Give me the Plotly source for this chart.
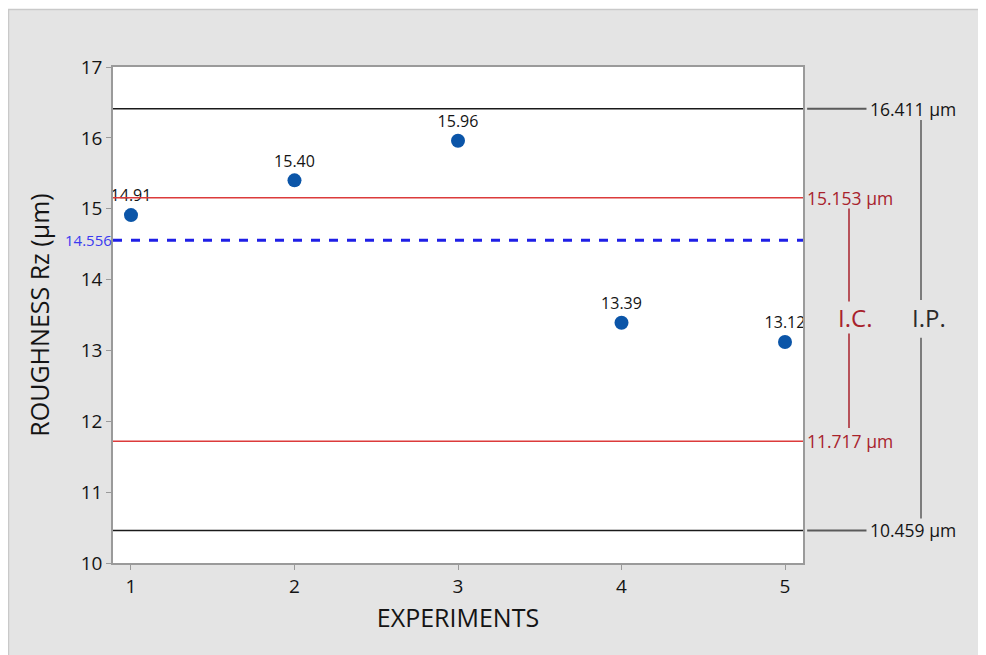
import plotly.graph_objects as go

experiments = [1, 2, 3, 4, 5]
roughness = [14.91, 15.40, 15.96, 13.39, 13.12]
labels = ["14.91", "15.40", "15.96", "13.39", "13.12"]
mean_value = 14.556
ip_upper, ip_lower = 16.411, 10.459
ic_upper, ic_lower = 15.153, 11.717
y_ticks = [10, 11, 12, 13, 14, 15, 16, 17]
x_ticks = [1, 2, 3, 4, 5]

FONT = "Open Sans"
RED_LINE = "#dc3b3b"
RED_TEXT = "#a8222c"
GRAY = "#5a5a5a"
TXT = "#141414"

# page offset of the figure (default body margin) is 8px
L, T, PW, PH = 105, 59, 690, 496

fig = go.Figure()

fig.add_trace(go.Scatter(
    x=experiments, y=roughness, mode="markers+text",
    text=labels, textposition="top center",
    textfont=dict(family=FONT, size=16, color=TXT),
    marker=dict(color="#0b55a8", size=14),
    showlegend=False, cliponaxis=False,
))

shapes = []
for val, col, w, dash in [(ip_upper, "#1a1a1a", 1.5, "solid"),
                          (ip_lower, "#1a1a1a", 1.5, "solid"),
                          (ic_upper, RED_LINE, 1.5, "solid"),
                          (ic_lower, RED_LINE, 1.5, "solid"),
                          (mean_value, "#1f1fe6", 3, "dash")]:
    shapes.append(dict(type="line", xref="paper", yref="y", x0=0, x1=1, y0=val, y1=val,
                       line=dict(color=col, width=w, dash=dash), layer="above"))

# gray outer panel
shapes.append(dict(type="rect", xref="paper", yref="paper",
                   x0=(0.5 - L) / PW, x1=(1000 - L) / PW,
                   y0=-(700 - T - PH) / PH, y1=(T + PH - 1.5) / PH,
                   fillcolor="#e4e4e4", line=dict(color="#c9c9c9", width=1.5), layer="below"))
shapes.append(dict(type="rect", xref="paper", yref="paper", x0=0, x1=1, y0=0, y1=1,
                   fillcolor="white", line=dict(width=0), layer="below"))

for val in (ip_upper, ip_lower):
    shapes.append(dict(type="line", xref="paper", yref="y", x0=1.006, x1=1.092, y0=val, y1=val,
                       line=dict(color=GRAY, width=2)))
ip_x = (921 - 113) / 690
ic_x = (849 - 113) / 690
ip_mid = 13.43
ic_mid = 13.46
shapes.append(dict(type="line", xref="paper", yref="y", x0=ip_x, x1=ip_x,
                   y0=ip_upper - 0.16, y1=ip_mid + 0.28, line=dict(color=GRAY, width=1.5)))
shapes.append(dict(type="line", xref="paper", yref="y", x0=ip_x, x1=ip_x,
                   y0=ip_mid - 0.25, y1=ip_lower + 0.17, line=dict(color=GRAY, width=1.5)))
shapes.append(dict(type="line", xref="paper", yref="y", x0=ic_x, x1=ic_x,
                   y0=ic_upper - 0.15, y1=ic_mid + 0.23, line=dict(color=RED_TEXT, width=1.5)))
shapes.append(dict(type="line", xref="paper", yref="y", x0=ic_x, x1=ic_x,
                   y0=ic_mid - 0.22, y1=ic_lower + 0.19, line=dict(color=RED_TEXT, width=1.5)))

annotations = []
for val in (ip_upper, ip_lower):
    annotations.append(dict(xref="paper", yref="y", x=1.094, y=val, text=f"{val:.3f} µm",
                            showarrow=False, xanchor="left", yanchor="middle",
                            font=dict(family=FONT, size=17.5, color=TXT)))
for val in (ic_upper, ic_lower):
    annotations.append(dict(xref="paper", yref="y", x=1.003, y=val, text=f"{val:.3f} µm",
                            showarrow=False, xanchor="left", yanchor="middle",
                            font=dict(family=FONT, size=17.5, color=RED_TEXT)))
annotations.append(dict(xref="paper", yref="y", x=ic_x + 0.009, y=ic_mid, text="I.C.",
                        showarrow=False, xanchor="center", yanchor="middle",
                        font=dict(family=FONT, size=24, color=RED_TEXT)))
annotations.append(dict(xref="paper", yref="y", x=ip_x + 0.011, y=ip_mid + 0.04, text="I.P.",
                        showarrow=False, xanchor="center", yanchor="middle",
                        font=dict(family=FONT, size=24, color="#2a2a2a")))
annotations.append(dict(xref="paper", yref="y", x=0.001, y=mean_value, text=f"{mean_value:.3f}",
                        showarrow=False, xanchor="right", yanchor="middle",
                        font=dict(family=FONT, size=15, color="#3a3af0")))

fig.update_layout(
    width=986, height=655,
    margin=dict(l=L, r=986 - L - PW, t=T, b=655 - T - PH),
    paper_bgcolor="white", plot_bgcolor="rgba(0,0,0,0)",
    shapes=shapes, annotations=annotations,
    font=dict(family=FONT, color=TXT),
    xaxis=dict(range=[0.89, 5.11], tickvals=x_ticks, ticktext=[str(v) for v in x_ticks],
               showgrid=False, zeroline=False, showline=True, linecolor="#9a9a9a", linewidth=1.5,
               mirror=True, ticks="outside", ticklen=5, tickcolor="#9a9a9a",
               tickfont=dict(family=FONT, size=19, color=TXT),
               title=dict(text="EXPERIMENTS", standoff=12,
                          font=dict(family=FONT, size=25, color=TXT))),
    yaxis=dict(range=[10, 17], tickvals=y_ticks, showgrid=False, zeroline=False,
               showline=True, linecolor="#9a9a9a", linewidth=1.5, mirror=True,
               ticks="outside", ticklen=5, tickcolor="#9a9a9a",
               tickfont=dict(family=FONT, size=19, color=TXT),
               title=dict(text="ROUGHNESS Rz (µm)", standoff=24,
                          font=dict(family=FONT, size=25, color=TXT))),
)

fig.write_html("out.html")
